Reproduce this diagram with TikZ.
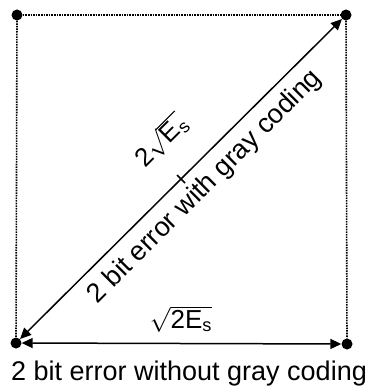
\documentclass[tikz,border=0pt]{standalone}
\usepackage{amsmath}
\usepackage{fontspec}
\setmainfont{Liberation Sans}
\usetikzlibrary{calc,arrows.meta}

\tikzset{
  sym/.style={circle, fill=black, inner sep=0pt, minimum size=11pt},
  frame/.style={line width=1.6pt, dash pattern=on 1.6pt off 1pt},
  dist/.style={<->, line width=1.5pt},
  bigtext/.style={font=\fontsize{27}{30}\selectfont, inner sep=0pt},
  sqtext/.style={font=\fontsize{26}{28}\selectfont, inner sep=0pt}
}

\begin{document}
\begin{tikzpicture}[x=1pt, y=-1pt, >={Triangle[length=11pt, width=10pt]}]
  \useasboundingbox (0,0) rectangle (374,387);
  % ---- the four symbols ----
  \node[sym] (tl) at (17,15) {};
  \node[sym] (tr) at (346,15) {};
  \node[sym] (bl) at (16,343) {};
  \node[sym] (br) at (347,344) {};
  % ---- dotted square ----
  \draw[frame] (tl) -- (tr);
  \draw[frame] (tl) -- (bl);
  \draw[frame] (tr) -- (br);
  % ---- distances ----
  \draw[dist] (bl) -- (tr);
  \draw[dist] (bl) -- (br);
  \coordinate (mid) at ($(bl)!0.5!(tr)$);
  \draw[line width=1.5pt] (mid) +(-4,-4) -- +(4,4);
  % ---- labels ----
  \node[sqtext, rotate=45, anchor=base] (diag) at (167,147)
    {2$\sqrt{\text{E}_\text{s}}$};
  \node[bigtext, rotate=45, anchor=base] (gray) at (210,192)
    {2 bit error with gray coding};
  \node[sqtext, anchor=base] (side) at (181,328)
    {$\sqrt{\text{2E}_\text{s}}$};
  \node[bigtext, anchor=base] (nogray) at (189,380)
    {2 bit error without gray coding};
\end{tikzpicture}
\end{document}
